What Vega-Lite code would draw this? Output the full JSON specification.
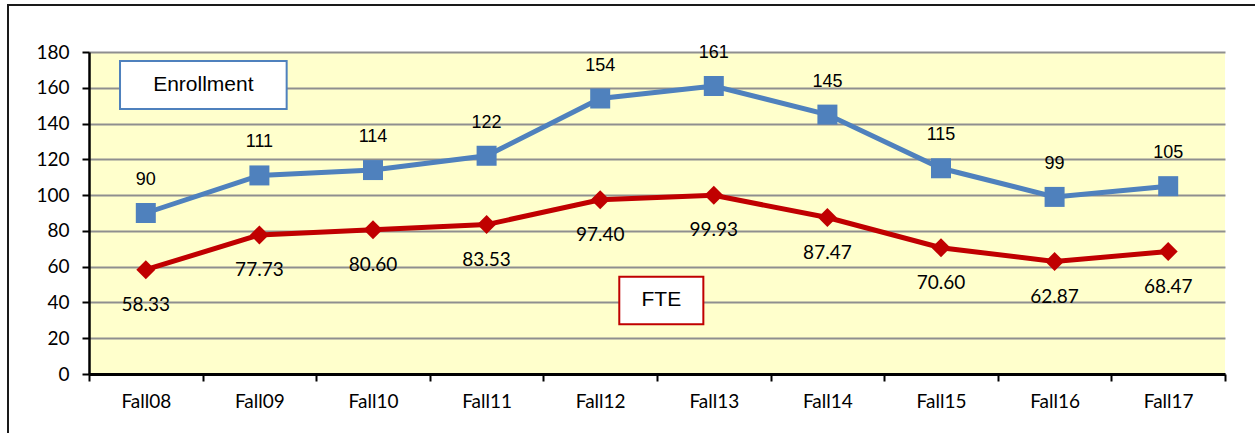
{
  "$schema": "https://vega.github.io/schema/vega-lite/v6.json",
  "autosize": "none",
  "width": 1136,
  "height": 322,
  "padding": {"left": 89, "top": 52, "right": 30, "bottom": 59},
  "background": "white",
  "config": {
    "view": {"fill": "#FFFFCC", "stroke": null},
    "axis": {"labelColor": "black", "tickColor": "black", "domainColor": "black"}
  },
  "datasets": {
    "terms": [
      {"term": "Fall08", "enrollment": 90, "fte": 58.33},
      {"term": "Fall09", "enrollment": 111, "fte": 77.73},
      {"term": "Fall10", "enrollment": 114, "fte": 80.60},
      {"term": "Fall11", "enrollment": 122, "fte": 83.53},
      {"term": "Fall12", "enrollment": 154, "fte": 97.40},
      {"term": "Fall13", "enrollment": 161, "fte": 99.93},
      {"term": "Fall14", "enrollment": 145, "fte": 87.47},
      {"term": "Fall15", "enrollment": 115, "fte": 70.60},
      {"term": "Fall16", "enrollment": 99, "fte": 62.87},
      {"term": "Fall17", "enrollment": 105, "fte": 68.47}
    ],
    "boxes": [
      {"name": "Enrollment", "x1": -0.227, "x2": 1.240, "y1": 148.1, "y2": 175.0, "xc": 0.5065, "yc": 161.5, "series": "Enrollment"},
      {"name": "FTE", "x1": 4.168, "x2": 4.908, "y1": 27.8, "y2": 54.4, "xc": 4.538, "yc": 41.1, "series": "FTE"}
    ],
    "frame": [
      {"x1": -1.213, "x2": 9.95, "y1": -45, "y2": 206.3}
    ]
  },
  "layer": [
    {
      "data": {"name": "terms"},
      "encoding": {
        "x": {
          "field": "term", "type": "ordinal", "sort": null,
          "scale": {"paddingInner": 0, "paddingOuter": 0},
          "axis": {
            "title": null, "labelAngle": 0, "labelFont": "Lato", "labelFontSize": 19,
            "tickBand": "extent", "tickSize": 7, "tickWidth": 2, "domainWidth": 3,
            "labelPadding": 11, "grid": false
          }
        }
      },
      "layer": [
        {
          "mark": {"type": "line", "color": "#4F81BD", "strokeWidth": 5},
          "encoding": {
            "y": {
              "field": "enrollment", "type": "quantitative",
              "scale": {"domain": [0, 180], "nice": false},
              "axis": {
                "title": null, "values": [0, 20, 40, 60, 80, 100, 120, 140, 160, 180], "tickCount": 20,
                "labelFont": "Lato", "labelFontSize": 19, "tickSize": 7, "tickWidth": 2,
                "domainWidth": 2.5, "labelPadding": 13, "labelOverlap": false,
                "grid": true, "gridColor": "#8F8F8F", "gridWidth": 2
              }
            }
          }
        },
        {
          "mark": {"type": "point", "shape": "square", "filled": true, "size": 400, "color": "#4F81BD", "opacity": 1},
          "encoding": {"y": {"field": "enrollment", "type": "quantitative"}}
        },
        {
          "mark": {"type": "text", "dy": -33, "font": "Liberation Sans", "fontSize": 18, "color": "black"},
          "encoding": {
            "y": {"field": "enrollment", "type": "quantitative"},
            "text": {"field": "enrollment", "type": "quantitative", "format": "d"}
          }
        },
        {
          "mark": {"type": "line", "color": "#C00000", "strokeWidth": 5},
          "encoding": {"y": {"field": "fte", "type": "quantitative"}}
        },
        {
          "mark": {"type": "point", "shape": "diamond", "filled": true, "size": 360, "color": "#C00000", "opacity": 1},
          "encoding": {"y": {"field": "fte", "type": "quantitative"}}
        },
        {
          "mark": {"type": "text", "dy": 35, "font": "Lato", "fontSize": 19, "color": "black"},
          "encoding": {
            "y": {"field": "fte", "type": "quantitative"},
            "text": {"field": "fte", "type": "quantitative", "format": ".2f"}
          }
        }
      ]
    },
    {
      "layer": [
        {
          "data": {"name": "boxes"},
          "mark": {"type": "rect", "fill": "white", "strokeWidth": 2},
          "encoding": {
            "x": {"field": "x1", "type": "quantitative", "scale": {"domain": [-0.5, 9.5], "nice": false, "zero": false}, "axis": null},
            "x2": {"field": "x2"},
            "y": {"field": "y1", "type": "quantitative", "axis": null},
            "y2": {"field": "y2"},
            "stroke": {
              "field": "series", "type": "nominal", "legend": null,
              "scale": {"domain": ["Enrollment", "FTE"], "range": ["#4F81BD", "#C00000"]}
            }
          }
        },
        {
          "data": {"name": "boxes"},
          "mark": {"type": "text", "font": "Liberation Sans", "fontSize": 21, "color": "black"},
          "encoding": {
            "x": {"field": "xc", "type": "quantitative", "axis": null},
            "y": {"field": "yc", "type": "quantitative", "axis": null},
            "text": {"field": "name"}
          }
        },
        {
          "data": {"name": "frame"},
          "mark": {"type": "rect", "fill": null, "stroke": "#1a1a1a", "strokeWidth": 2},
          "encoding": {
            "x": {"field": "x1", "type": "quantitative", "axis": null},
            "x2": {"field": "x2"},
            "y": {"field": "y1", "type": "quantitative", "axis": null},
            "y2": {"field": "y2"}
          }
        }
      ]
    }
  ],
  "resolve": {"scale": {"x": "independent"}, "axis": {"y": "independent"}}
}
